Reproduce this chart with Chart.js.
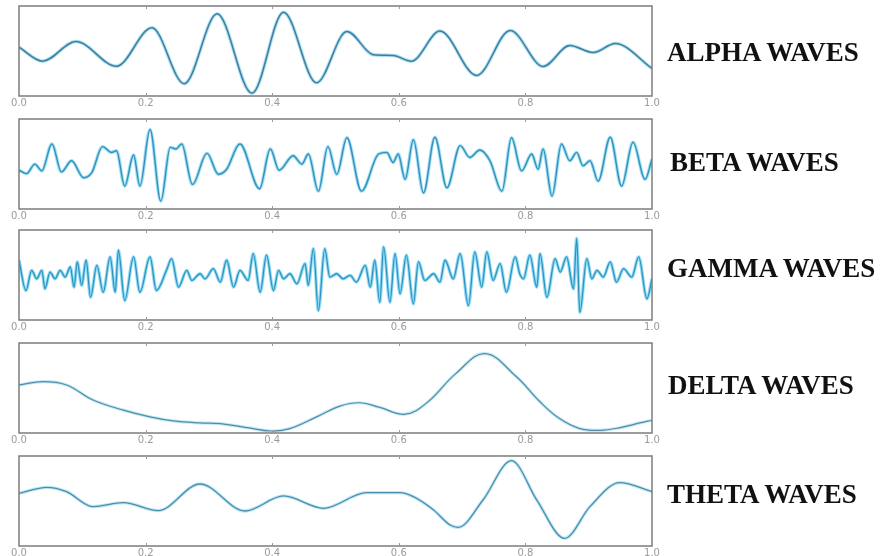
<!DOCTYPE html>
<html>
<head>
<meta charset="utf-8">
<script src="https://cdn.jsdelivr.net/npm/chart.js@4.4.1/dist/chart.umd.min.js"></script>
<style>
  html, body { margin: 0; padding: 0; background: #fff; overflow: hidden; }
  #wrap { position: relative; width: 891px; height: 556px; }
  .panel { position: absolute; left: 0; width: 891px; height: 106px; }
  .wave-name {
    position: absolute; font-family: "Liberation Serif", "Times New Roman", serif;
    font-weight: bold; font-size: 27px; line-height: 26px; color: #111;
    white-space: nowrap;
  }
</style>
</head>
<body>
<div id="wrap"></div>
<script>
// Time axis (seconds) and amplitude samples at the turning points of each trace
const tickValues = [0.0, 0.2, 0.4, 0.6, 0.8, 1.0];

const alphaT = [0, 0.037, 0.090, 0.154, 0.210, 0.261, 0.313, 0.368, 0.418, 0.470, 0.518, 0.560, 0.591, 0.620, 0.665, 0.723, 0.776, 0.828, 0.870, 0.907, 0.942, 1.0];
const alphaV = [54.2, 38.7, 60.6, 33.1, 75.8, 13.6, 91.3, 3.1, 93.1, 14.7, 71.7, 45.8, 45.0, 38.7, 72.1, 22.8, 72.8, 32.8, 56.1, 48.3, 58.3, 30.6];

const betaT = [0, 0.012, 0.025, 0.036, 0.052, 0.067, 0.083, 0.102, 0.115, 0.132, 0.146, 0.154, 0.167, 0.181, 0.191, 0.207, 0.224, 0.239, 0.248, 0.257, 0.274, 0.297, 0.315, 0.328, 0.349, 0.380, 0.397, 0.411, 0.433, 0.447, 0.457, 0.473, 0.488, 0.502, 0.518, 0.541, 0.568, 0.581, 0.591, 0.599, 0.610, 0.623, 0.639, 0.657, 0.676, 0.697, 0.712, 0.728, 0.744, 0.763, 0.778, 0.794, 0.810, 0.820, 0.828, 0.842, 0.857, 0.870, 0.881, 0.891, 0.902, 0.915, 0.934, 0.952, 0.970, 0.989, 1.0];
const betaV = [43.1, 39.3, 49.9, 42.4, 72.3, 41.2, 53.6, 34.8, 40.4, 69.3, 62.9, 64.8, 25.5, 60.0, 25.5, 88.4, 8.7, 68.5, 66.7, 72.3, 27.4, 61.8, 38.6, 44.2, 72.3, 22.5, 66.7, 43.1, 59.2, 49.9, 61.1, 19.9, 69.3, 38.6, 79.1, 19.9, 61.1, 62.9, 51.7, 61.1, 33.0, 76.9, 18.0, 79.8, 23.6, 70.4, 57.3, 65.6, 53.6, 19.9, 79.1, 42.4, 61.1, 44.2, 66.7, 14.3, 72.3, 53.6, 62.9, 48.0, 53.6, 31.1, 79.8, 25.5, 74.2, 33.0, 55.5];

const gammaT = [0, 0.011, 0.020, 0.028, 0.036, 0.041, 0.049, 0.057, 0.065, 0.073, 0.081, 0.087, 0.092, 0.099, 0.106, 0.113, 0.123, 0.133, 0.144, 0.152, 0.157, 0.167, 0.181, 0.191, 0.207, 0.217, 0.233, 0.241, 0.252, 0.265, 0.273, 0.286, 0.294, 0.307, 0.318, 0.328, 0.339, 0.349, 0.362, 0.370, 0.381, 0.391, 0.402, 0.410, 0.418, 0.428, 0.439, 0.452, 0.457, 0.465, 0.473, 0.483, 0.491, 0.502, 0.512, 0.523, 0.533, 0.547, 0.555, 0.562, 0.570, 0.576, 0.586, 0.594, 0.602, 0.612, 0.623, 0.631, 0.641, 0.655, 0.665, 0.673, 0.686, 0.697, 0.710, 0.720, 0.731, 0.739, 0.749, 0.760, 0.770, 0.784, 0.791, 0.797, 0.807, 0.818, 0.823, 0.834, 0.847, 0.855, 0.865, 0.876, 0.881, 0.886, 0.897, 0.905, 0.913, 0.923, 0.934, 0.944, 0.955, 0.968, 0.979, 0.992, 1.0];
const gammaV = [66.4, 32.8, 55.2, 45.8, 55.2, 34.7, 53.3, 45.8, 55.2, 47.7, 58.9, 36.5, 64.5, 38.4, 66.4, 25.3, 60.8, 30.9, 70.1, 30.9, 77.6, 21.6, 70.1, 30.9, 70.1, 32.8, 55.2, 68.2, 36.5, 55.2, 44.0, 51.4, 45.8, 57.1, 42.1, 66.4, 36.5, 55.2, 44.0, 73.8, 30.9, 72.0, 32.8, 55.2, 45.8, 51.4, 40.3, 62.7, 38.4, 79.4, 10.4, 79.4, 47.7, 51.4, 45.8, 49.6, 42.1, 60.8, 36.5, 66.4, 19.7, 81.3, 19.7, 73.8, 29.1, 72.0, 17.9, 64.5, 44.0, 51.4, 42.1, 66.4, 45.8, 73.8, 16.0, 75.7, 36.5, 75.7, 44.0, 62.7, 30.9, 70.1, 51.4, 45.8, 72.0, 36.5, 73.8, 25.3, 68.2, 53.3, 70.1, 34.7, 90.7, 8.5, 68.2, 45.8, 55.2, 47.7, 64.5, 42.1, 57.1, 47.7, 70.1, 23.5, 45.8];

const deltaT = [0, 0.038, 0.075, 0.117, 0.165, 0.207, 0.244, 0.286, 0.318, 0.360, 0.399, 0.428, 0.470, 0.507, 0.539, 0.570, 0.610, 0.645, 0.690, 0.736, 0.785, 0.823, 0.854, 0.886, 0.918, 0.950, 0.981, 1.0];
const deltaV = [53.4, 57.1, 53.4, 36.6, 25.4, 17.9, 13.4, 11.2, 10.5, 6.0, 2.2, 4.9, 17.9, 29.9, 33.6, 28.4, 20.9, 34.0, 66.0, 88.1, 63.0, 34.7, 16.0, 4.9, 3.0, 6.0, 11.2, 14.2];

const thetaT = [0, 0.044, 0.075, 0.117, 0.165, 0.220, 0.286, 0.357, 0.418, 0.481, 0.549, 0.602, 0.623, 0.655, 0.681, 0.694, 0.733, 0.778, 0.818, 0.862, 0.902, 0.949, 1.0];
const thetaV = [58.5, 65.2, 60.4, 43.7, 48.1, 39.3, 68.9, 38.9, 55.6, 41.9, 59.3, 59.3, 54.8, 40.0, 23.3, 20.7, 51.1, 94.8, 51.1, 8.5, 43.7, 70.4, 60.4];

const waveNames = ["ALPHA WAVES", "BETA WAVES", "GAMMA WAVES", "DELTA WAVES", "THETA WAVES"];

// panel layout; the slow delta trace uses plain bezier smoothing
const panels = [
  { t: alphaT, v: alphaV, top: 4,   name: waveNames[0], nameX: 667, nameY: 52,  color: "#3d7f9e", halo: "rgba(110,195,230,0.55)", w: 1.5, smooth: "monotone" },
  { t: betaT,  v: betaV,  top: 117, name: waveNames[1], nameX: 670, nameY: 162, color: "#3590b8", halo: "rgba(90,200,240,0.6)",  w: 1.4, smooth: "monotone" },
  { t: gammaT, v: gammaV, top: 228, name: waveNames[2], nameX: 667, nameY: 268, color: "#2f93bf", halo: "rgba(70,195,240,0.6)",  w: 1.3, smooth: "monotone" },
  { t: deltaT, v: deltaV, top: 341, name: waveNames[3], nameX: 668, nameY: 385, color: "#4f8ea8", halo: "rgba(140,210,235,0.5)", w: 1.2, smooth: "default" },
  { t: thetaT, v: thetaV, top: 454, name: waveNames[4], nameX: 667, nameY: 494, color: "#4a90ae", halo: "rgba(130,205,235,0.5)", w: 1.3, smooth: "monotone" }
];

// box frame plus small inner ticks along top and bottom edges
const framePlugin = {
  id: "frame",
  afterDraw(chart) {
    const { ctx, chartArea: a, scales } = chart;
    ctx.save();
    ctx.strokeStyle = "#7c7c7c";
    ctx.lineWidth = 1.5;
    ctx.strokeRect(a.left, a.top, a.right - a.left, a.bottom - a.top);
    ctx.lineWidth = 1;
    ctx.strokeStyle = "#9a9a9a";
    tickValues.slice(1, -1).forEach(v => {
      const x = Math.round(scales.x.getPixelForValue(v)) + 0.5;
      ctx.beginPath();
      ctx.moveTo(x, a.top); ctx.lineTo(x, a.top + 3);
      ctx.moveTo(x, a.bottom); ctx.lineTo(x, a.bottom - 3);
      ctx.stroke();
    });
    ctx.restore();
  }
};

const wrap = document.getElementById("wrap");

panels.forEach(p => {
  const holder = document.createElement("div");
  holder.className = "panel";
  holder.style.top = p.top + "px";
  const canvas = document.createElement("canvas");
  holder.appendChild(canvas);
  wrap.appendChild(holder);

  const label = document.createElement("div");
  label.className = "wave-name";
  label.textContent = p.name;
  label.style.left = p.nameX + "px";
  label.style.top = (p.nameY - 13) + "px";
  wrap.appendChild(label);

  const pts = p.t.map((t, i) => ({ x: t, y: p.v[i] }));
  const lineOpts = { data: pts, pointRadius: 0, cubicInterpolationMode: p.smooth, tension: 0.4, fill: false };

  new Chart(canvas, {
    type: "line",
    data: {
      datasets: [
        Object.assign({}, lineOpts, { borderColor: p.color, borderWidth: p.w }),
        Object.assign({}, lineOpts, { borderColor: p.halo, borderWidth: p.w + 2 })
      ]
    },
    options: {
      responsive: true,
      maintainAspectRatio: false,
      animation: false,
      events: [],
      layout: { padding: { left: 19, right: 239, top: 2, bottom: 0 } },
      plugins: { legend: { display: false }, tooltip: { enabled: false } },
      scales: {
        x: {
          type: "linear", min: 0, max: 1,
          afterBuildTicks: s => { s.ticks = tickValues.map(v => ({ value: v })); },
          afterFit: s => { s.height = 14; },
          grid: { display: false, drawTicks: false },
          border: { display: false },
          ticks: {
            padding: 1, maxRotation: 0, autoSkip: false,
            color: "#9a9a9a",
            font: { family: "DejaVu Sans", size: 10 },
            callback: v => Number(v).toFixed(1)
          }
        },
        y: { display: false, min: 0, max: 100 }
      }
    },
    plugins: [framePlugin]
  });
});
</script>
</body>
</html>
